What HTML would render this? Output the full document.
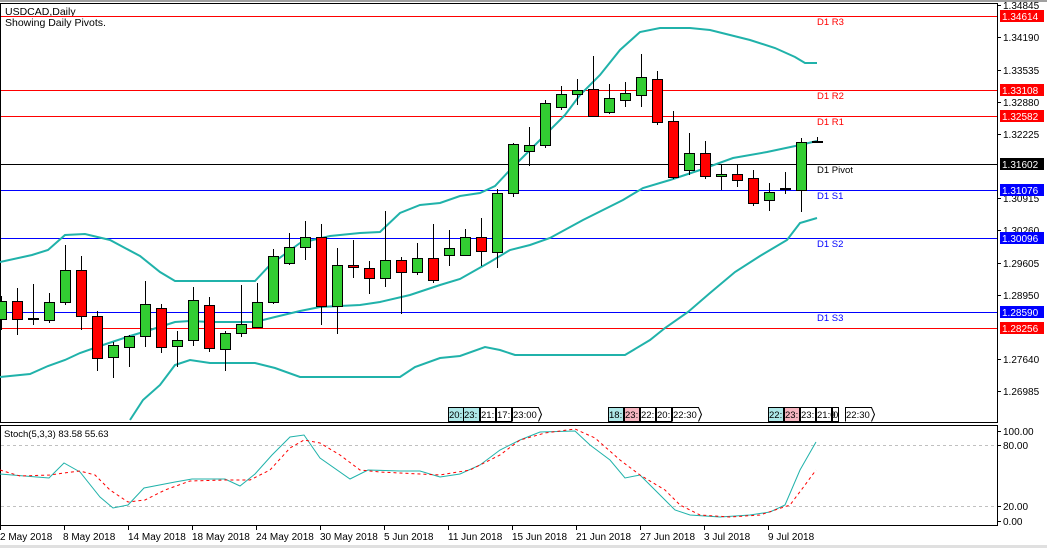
<!DOCTYPE html>
<html><head><style>
html,body{margin:0;padding:0;background:#fff;}
svg{display:block;font-family:"Liberation Sans",sans-serif;}
</style></head><body>
<svg width="1047" height="548" viewBox="0 0 1047 548" xmlns="http://www.w3.org/2000/svg">
<rect x="0" y="0" width="1047" height="548" fill="#fff"/>
<rect x="0" y="0" width="1047" height="2" fill="#a0a0a0"/>
<!-- main frame -->
<rect x="0.5" y="3.5" width="997" height="419" fill="none" stroke="#000"/>
<rect x="0.5" y="425.5" width="997" height="100" fill="none" stroke="#000"/>
<text x="5" y="15" font-size="10.5">USDCAD,Daily</text>
<text x="5" y="26" font-size="10.5">Showing Daily Pivots.</text>
<!-- pivot lines -->
<g stroke-width="1">
<line x1="1" y1="16.5" x2="997" y2="16.5" stroke="#f00"/>
<line x1="1" y1="90.5" x2="997" y2="90.5" stroke="#f00"/>
<line x1="1" y1="116.5" x2="997" y2="116.5" stroke="#f00"/>
<line x1="1" y1="164.5" x2="997" y2="164.5" stroke="#000"/>
<line x1="1" y1="190.5" x2="997" y2="190.5" stroke="#00f"/>
<line x1="1" y1="238.5" x2="997" y2="238.5" stroke="#00f"/>
<line x1="1" y1="312.5" x2="997" y2="312.5" stroke="#00f"/>
<line x1="1" y1="328.5" x2="997" y2="328.5" stroke="#f00"/>
</g>
<g font-size="9.5">
<text x="817" y="25" fill="#f00">D1 R3</text>
<text x="817" y="99" fill="#f00">D1 R2</text>
<text x="817" y="125" fill="#f00">D1 R1</text>
<text x="817" y="173" fill="#000">D1 Pivot</text>
<text x="817" y="199" fill="#00f">D1 S1</text>
<text x="817" y="247" fill="#00f">D1 S2</text>
<text x="817" y="321" fill="#00f">D1 S3</text>
</g>
<!-- bollinger -->
<g fill="none" stroke="#20b2aa" stroke-width="2">
<polyline points="0,262 32,255 48,250 65,235 85,234 110,240 140,256 160,272 175,281 255,281 270,265 300,243 330,236 360,233 380,232 400,213 420,205 440,203 460,196 480,193 495,186 510,170 530,150 550,130 565,115 580,95 600,75 620,50 640,32 660,28 690,28 710,30 730,35 750,40 775,48 795,57 805,63 817,63"/>
<polyline points="0,377 30,374 48,366 65,360 80,353 100,346 130,336 150,330 175,322 190,321 210,322 255,322 275,317 300,311 320,307 360,305 380,302 410,295 440,285 460,279 490,262 510,250 530,245 550,238 583,220 623,200 643,188 670,180 700,170 733,158 767,152 800,145 817,141"/>
<polyline points="130,420 143,400 160,385 175,365 190,360 210,363 255,363 275,368 300,377 400,377 415,367 440,358 460,356 485,347 500,350 515,355 625,355 650,340 665,328 688,312 710,293 735,272 760,256 787,240 800,223 817,218"/>
</g>
<!-- candles -->
<g stroke="#000" stroke-width="1">
<line x1="1.5" y1="296" x2="1.5" y2="330"/><rect x="-3.5" y="301.5" width="10" height="18" fill="#32cd32"/>
<line x1="17.5" y1="288" x2="17.5" y2="335"/><rect x="12.5" y="301.5" width="10" height="18" fill="#f00"/>
<line x1="33.5" y1="284" x2="33.5" y2="325"/><rect x="28.5" y="318.5" width="10" height="1" fill="#000"/>
<line x1="49.5" y1="293" x2="49.5" y2="323"/><rect x="44.5" y="302.5" width="10" height="18" fill="#32cd32"/>
<line x1="65.5" y1="245" x2="65.5" y2="305"/><rect x="60.5" y="270.5" width="10" height="32" fill="#32cd32"/>
<line x1="81.5" y1="256" x2="81.5" y2="330"/><rect x="76.5" y="270.5" width="10" height="46" fill="#f00"/>
<line x1="97.5" y1="311" x2="97.5" y2="371"/><rect x="92.5" y="316.5" width="10" height="42" fill="#f00"/>
<line x1="113.5" y1="342" x2="113.5" y2="378"/><rect x="108.5" y="345.5" width="10" height="12" fill="#32cd32"/>
<line x1="129.5" y1="335" x2="129.5" y2="367"/><rect x="124.5" y="336.5" width="10" height="11" fill="#32cd32"/>
<line x1="145.5" y1="281" x2="145.5" y2="347"/><rect x="140.5" y="304.5" width="10" height="32" fill="#32cd32"/>
<line x1="161.5" y1="304" x2="161.5" y2="353"/><rect x="156.5" y="308.5" width="10" height="39" fill="#f00"/>
<line x1="177.5" y1="331" x2="177.5" y2="367"/><rect x="172.5" y="340.5" width="10" height="6" fill="#32cd32"/>
<line x1="193.5" y1="287" x2="193.5" y2="346"/><rect x="188.5" y="300.5" width="10" height="40" fill="#32cd32"/>
<line x1="209.5" y1="297" x2="209.5" y2="352"/><rect x="204.5" y="305.5" width="10" height="43" fill="#f00"/>
<line x1="225.5" y1="331" x2="225.5" y2="371"/><rect x="220.5" y="333.5" width="10" height="16" fill="#32cd32"/>
<line x1="241.5" y1="285" x2="241.5" y2="337"/><rect x="236.5" y="324.5" width="10" height="9" fill="#32cd32"/>
<line x1="257.5" y1="283" x2="257.5" y2="327"/><rect x="252.5" y="302.5" width="10" height="25" fill="#32cd32"/>
<line x1="273.5" y1="249" x2="273.5" y2="304"/><rect x="268.5" y="256.5" width="10" height="46" fill="#32cd32"/>
<line x1="289.5" y1="233" x2="289.5" y2="265"/><rect x="284.5" y="247.5" width="10" height="16" fill="#32cd32"/>
<line x1="305.5" y1="221" x2="305.5" y2="260"/><rect x="300.5" y="237.5" width="10" height="10" fill="#32cd32"/>
<line x1="321.5" y1="224" x2="321.5" y2="325"/><rect x="316.5" y="237.5" width="10" height="69" fill="#f00"/>
<line x1="337.5" y1="248" x2="337.5" y2="334"/><rect x="332.5" y="265.5" width="10" height="41" fill="#32cd32"/>
<line x1="353.5" y1="240" x2="353.5" y2="278"/><rect x="348.5" y="265.5" width="10" height="2" fill="#f00"/>
<line x1="369.5" y1="261" x2="369.5" y2="294"/><rect x="364.5" y="268.5" width="10" height="10" fill="#f00"/>
<line x1="385.5" y1="211" x2="385.5" y2="287"/><rect x="380.5" y="260.5" width="10" height="18" fill="#32cd32"/>
<line x1="401.5" y1="257" x2="401.5" y2="314"/><rect x="396.5" y="260.5" width="10" height="12" fill="#f00"/>
<line x1="417.5" y1="243" x2="417.5" y2="275"/><rect x="412.5" y="258.5" width="10" height="14" fill="#32cd32"/>
<line x1="433.5" y1="224" x2="433.5" y2="283"/><rect x="428.5" y="258.5" width="10" height="22" fill="#f00"/>
<line x1="449.5" y1="230" x2="449.5" y2="266"/><rect x="444.5" y="248.5" width="10" height="7" fill="#32cd32"/>
<line x1="465.5" y1="229" x2="465.5" y2="255"/><rect x="460.5" y="237.5" width="10" height="18" fill="#32cd32"/>
<line x1="481.5" y1="218" x2="481.5" y2="266"/><rect x="476.5" y="237.5" width="10" height="14" fill="#f00"/>
<line x1="497.5" y1="189" x2="497.5" y2="268"/><rect x="492.5" y="193.5" width="10" height="59" fill="#32cd32"/>
<line x1="513.5" y1="143" x2="513.5" y2="197"/><rect x="508.5" y="144.5" width="10" height="49" fill="#32cd32"/>
<line x1="529.5" y1="127" x2="529.5" y2="166"/><rect x="524.5" y="145.5" width="10" height="6" fill="#32cd32"/>
<line x1="545.5" y1="100" x2="545.5" y2="148"/><rect x="540.5" y="103.5" width="10" height="42" fill="#32cd32"/>
<line x1="561.5" y1="86" x2="561.5" y2="110"/><rect x="556.5" y="94.5" width="10" height="13" fill="#32cd32"/>
<line x1="577.5" y1="79" x2="577.5" y2="105"/><rect x="572.5" y="90.5" width="10" height="4" fill="#32cd32"/>
<line x1="593.5" y1="56" x2="593.5" y2="116"/><rect x="588.5" y="89.5" width="10" height="27" fill="#f00"/>
<line x1="609.5" y1="84" x2="609.5" y2="114"/><rect x="604.5" y="98.5" width="10" height="14" fill="#32cd32"/>
<line x1="625.5" y1="82" x2="625.5" y2="107"/><rect x="620.5" y="93.5" width="10" height="7" fill="#32cd32"/>
<line x1="641.5" y1="54" x2="641.5" y2="107"/><rect x="636.5" y="77.5" width="10" height="18" fill="#32cd32"/>
<line x1="657.5" y1="71" x2="657.5" y2="125"/><rect x="652.5" y="79.5" width="10" height="43" fill="#f00"/>
<line x1="673.5" y1="111" x2="673.5" y2="179"/><rect x="668.5" y="121.5" width="10" height="56" fill="#f00"/>
<line x1="689.5" y1="133" x2="689.5" y2="175"/><rect x="684.5" y="153.5" width="10" height="17" fill="#32cd32"/>
<line x1="705.5" y1="141" x2="705.5" y2="179"/><rect x="700.5" y="153.5" width="10" height="23" fill="#f00"/>
<line x1="721.5" y1="164" x2="721.5" y2="190"/><rect x="716.5" y="174.5" width="10" height="2" fill="#32cd32"/>
<line x1="737.5" y1="164" x2="737.5" y2="187"/><rect x="732.5" y="174.5" width="10" height="6" fill="#f00"/>
<line x1="753.5" y1="170" x2="753.5" y2="206"/><rect x="748.5" y="178.5" width="10" height="25" fill="#f00"/>
<line x1="769.5" y1="183" x2="769.5" y2="211"/><rect x="764.5" y="192.5" width="10" height="8" fill="#32cd32"/>
<line x1="785.5" y1="172" x2="785.5" y2="194"/><rect x="780.5" y="188.5" width="10" height="1" fill="#000"/>
<line x1="801.5" y1="138" x2="801.5" y2="212"/><rect x="796.5" y="142.5" width="10" height="48" fill="#32cd32"/>
<line x1="817.5" y1="137" x2="817.5" y2="143"/><rect x="812.5" y="141.5" width="10" height="1" fill="#000"/>
</g>
<!-- time labels boxes -->
<g font-size="9.5" stroke="#000" stroke-width="1">
<rect x="448.5" y="407.5" width="15" height="14" fill="#aee8e8"/>
<rect x="463.5" y="407.5" width="16" height="14" fill="#aee8e8"/>
<rect x="480.5" y="407.5" width="15" height="14" fill="#fff"/>
<rect x="496.5" y="407.5" width="15" height="14" fill="#fff"/>
<path d="M512.5 421.5 V407.5 H538.5 L541.5 414.5 L538.5 421.5" fill="#fff"/>
<rect x="608.5" y="407.5" width="15" height="14" fill="#aee8e8"/>
<rect x="624.5" y="407.5" width="15" height="14" fill="#f5b6c0"/>
<rect x="640.5" y="407.5" width="15" height="14" fill="#fff"/>
<rect x="656.5" y="407.5" width="15" height="14" fill="#fff"/>
<path d="M672.5 421.5 V407.5 H698.5 L701.5 414.5 L698.5 421.5" fill="#fff"/>
<rect x="768.5" y="407.5" width="15" height="14" fill="#aee8e8"/>
<rect x="784.5" y="407.5" width="15" height="14" fill="#f5b6c0"/>
<rect x="800.5" y="407.5" width="15" height="14" fill="#fff"/>
<rect x="816.5" y="407.5" width="15" height="14" fill="#fff"/>
<rect x="832.5" y="407.5" width="6" height="14" fill="#fff"/>
<path d="M845.5 421.5 V407.5 H871.5 L874.5 414.5 L871.5 421.5" fill="#fff"/>
</g>
<g font-size="9.5" fill="#000">
<text x="449" y="418">20:</text><text x="464" y="418">23:</text><text x="481" y="418">21:</text><text x="497" y="418">17:</text><text x="513" y="418">23:00</text>
<text x="609" y="418">18:</text><text x="625" y="418">23:</text><text x="641" y="418">22:</text><text x="657" y="418">20:</text><text x="673" y="418">22:30</text>
<text x="769" y="418">22:</text><text x="785" y="418">23:</text><text x="801" y="418">23:</text><text x="817" y="418">21:0</text><text x="833" y="418">0</text><text x="846" y="418">22:30</text>
</g>
<!-- stoch -->
<text x="4" y="437" font-size="9.5">Stoch(5,3,3) 83.58 55.63</text>
<line x1="1" y1="445.5" x2="997" y2="445.5" stroke="#c0c0c0" stroke-dasharray="3,3"/>
<line x1="1" y1="506.5" x2="997" y2="506.5" stroke="#c0c0c0" stroke-dasharray="3,3"/>
<polyline fill="none" stroke="#20b2aa" stroke-width="1" points="0,474 49,478 64,463 80,472 100,497 113,508 128,505 144,488 175,482 192,479 225,479 240,486 255,474 272,455 290,437 304,435 320,458 350,479 368,470 400,471 420,471 440,477 460,474 480,465 500,450 520,440 540,432 575,431 590,445 610,460 625,478 640,475 660,495 675,510 690,515 720,517 750,515 770,512 785,505 800,470 816,442"/>
<polyline fill="none" stroke="#f00" stroke-width="1" stroke-dasharray="3,3" points="0,470 20,476 50,475 64,473 80,471 95,475 110,490 128,502 145,500 165,490 190,481 225,480 250,480 270,470 290,448 304,440 320,443 340,455 360,470 380,472 400,473 440,475 470,470 500,455 520,440 545,433 575,429 595,438 620,460 640,475 665,490 680,505 700,515 730,517 760,515 790,505 805,485 816,470"/>
<!-- right axis -->
<g stroke="#000">
<line x1="997" y1="5.5" x2="1001" y2="5.5"/><line x1="997" y1="37.5" x2="1001" y2="37.5"/><line x1="997" y1="70.5" x2="1001" y2="70.5"/><line x1="997" y1="102.5" x2="1001" y2="102.5"/><line x1="997" y1="134.5" x2="1001" y2="134.5"/><line x1="997" y1="198.5" x2="1001" y2="198.5"/><line x1="997" y1="230.5" x2="1001" y2="230.5"/><line x1="997" y1="263.5" x2="1001" y2="263.5"/><line x1="997" y1="295.5" x2="1001" y2="295.5"/><line x1="997" y1="359.5" x2="1001" y2="359.5"/><line x1="997" y1="391.5" x2="1001" y2="391.5"/>
<line x1="997" y1="431.5" x2="1001" y2="431.5"/><line x1="997" y1="445.5" x2="1001" y2="445.5"/><line x1="997" y1="506.5" x2="1001" y2="506.5"/><line x1="997" y1="521.5" x2="1001" y2="521.5"/>
</g>
<g font-size="10" fill="#000">
<text x="1003" y="9">1.34845</text><text x="1003" y="41">1.34190</text><text x="1003" y="74">1.33535</text><text x="1003" y="106">1.32880</text><text x="1003" y="138">1.32225</text><text x="1003" y="202">1.30915</text><text x="1003" y="234">1.30260</text><text x="1003" y="267">1.29605</text><text x="1003" y="299">1.28950</text><text x="1003" y="363">1.27640</text><text x="1003" y="395">1.26985</text>
<text x="1003" y="435">100.00</text><text x="1003" y="449">80.00</text><text x="1003" y="510">20.00</text><text x="1003" y="525">0.00</text>
</g>
<g font-size="10" fill="#fff">
<rect x="1000" y="10" width="44" height="12" fill="#f00"/><text x="1002" y="20">1.34614</text>
<rect x="1000" y="84" width="44" height="12" fill="#f00"/><text x="1002" y="94">1.33108</text>
<rect x="1000" y="110" width="44" height="12" fill="#f00"/><text x="1002" y="120">1.32582</text>
<rect x="1000" y="158" width="44" height="12" fill="#000"/><text x="1002" y="168">1.31602</text>
<rect x="1000" y="184" width="44" height="12" fill="#00f"/><text x="1002" y="194">1.31076</text>
<rect x="1000" y="232" width="44" height="12" fill="#00f"/><text x="1002" y="242">1.30096</text>
<rect x="1000" y="306" width="44" height="12" fill="#00f"/><text x="1002" y="316">1.28590</text>
<rect x="1000" y="322" width="44" height="12" fill="#f00"/><text x="1002" y="332">1.28256</text>
</g>
<!-- bottom axis -->
<g stroke="#000">
<line x1="0.5" y1="526" x2="0.5" y2="530"/><line x1="64.5" y1="526" x2="64.5" y2="530"/><line x1="128.5" y1="526" x2="128.5" y2="530"/><line x1="192.5" y1="526" x2="192.5" y2="530"/><line x1="256.5" y1="526" x2="256.5" y2="530"/><line x1="320.5" y1="526" x2="320.5" y2="530"/><line x1="384.5" y1="526" x2="384.5" y2="530"/><line x1="448.5" y1="526" x2="448.5" y2="530"/><line x1="512.5" y1="526" x2="512.5" y2="530"/><line x1="576.5" y1="526" x2="576.5" y2="530"/><line x1="640.5" y1="526" x2="640.5" y2="530"/><line x1="704.5" y1="526" x2="704.5" y2="530"/><line x1="768.5" y1="526" x2="768.5" y2="530"/>
</g>
<g font-size="10" fill="#000">
<text x="0" y="540">2 May 2018</text><text x="63" y="540">8 May 2018</text><text x="128" y="540">14 May 2018</text><text x="192" y="540">18 May 2018</text><text x="256" y="540">24 May 2018</text><text x="320" y="540">30 May 2018</text><text x="384" y="540">5 Jun 2018</text><text x="448" y="540">11 Jun 2018</text><text x="512" y="540">15 Jun 2018</text><text x="576" y="540">21 Jun 2018</text><text x="640" y="540">27 Jun 2018</text><text x="704" y="540">3 Jul 2018</text><text x="768" y="540">9 Jul 2018</text>
</g>
<rect x="0" y="545" width="1047" height="3" fill="#e0e0e0"/>
</svg>
</body></html>
